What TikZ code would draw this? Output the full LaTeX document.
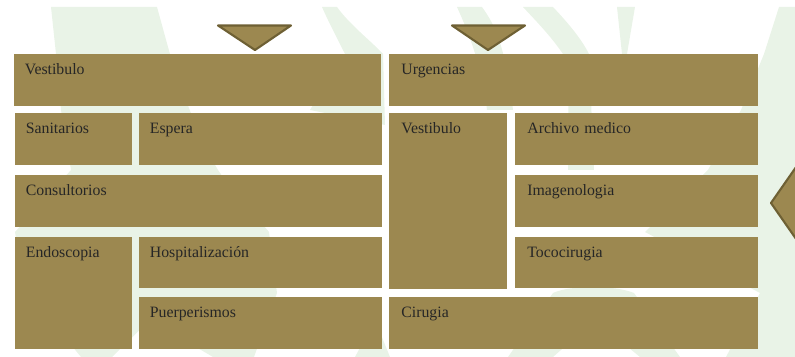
\documentclass[tikz,border=0pt]{standalone}
\usepackage{fontspec}
\setmainfont{Liberation Serif}
\usepackage{xcolor}
\usepackage{tikz}
\usetikzlibrary{positioning}
\definecolor{roomfill}{HTML}{9C8850}
\definecolor{arrowedge}{HTML}{6E6034}
\definecolor{markpale}{HTML}{E9F3E7}
\def\roominset{12}
\tikzset{
    room/.style 2 args={rectangle,fill=roomfill,anchor=north west,inner xsep={\roominset*.02cm},inner ysep=0pt,
        text width={(#1-2*\roominset)*.02cm},text height=.4cm,text depth={(#2-20)*.02cm},align=left,
        font=\fontsize{9}{11}\selectfont,text=black!85},
    pointer/.style={fill=roomfill,draw=arrowedge,line width=1.2pt,line join=round}
}
\begin{document}
\begin{tikzpicture}[x=.02cm,y=-.02cm]
    \useasboundingbox (0,0) rectangle (795,357);
    % pale shapes behind the rooms
    \begin{scope}[every path/.style={fill=markpale}]
    \path (51,7) -- (157,7) .. controls (162,25) and (166,40) .. (170,54) .. controls (185,100) and (200,140) .. (218,170)
        .. controls (235,195) and (255,215) .. (269,232) -- (277,293) -- (254,357) -- (213,357) -- (150,320) -- (112,357) -- (81,357)
        .. controls (50,320) and (20,270) .. (15,232) -- (71,170) -- (61,110) -- (56,54) -- cycle;
    \path (322,7) -- (337,7) .. controls (350,25) and (370,40) .. (383,54) -- (385,125) -- (310,110) -- (345,54) .. controls (338,40) and (330,25) .. (322,7) -- cycle;
    \path (457,7) -- (482,7) .. controls (495,25) and (505,45) .. (513,110) -- (487,110) .. controls (482,70) and (472,40) .. (457,7) -- cycle;
    \path (523,7) -- (553,7) .. controls (570,25) and (582,40) .. (589,54) -- (594,170) -- (568,170) .. controls (570,120) and (568,80) .. (563,54) .. controls (550,35) and (535,20) .. (523,7) -- cycle;
    \path (553,293) .. controls (570,285) and (615,285) .. (634,293) -- (680,357) -- (640,357) -- (595,320) -- (553,357) -- (508,357) -- cycle;
    \path (355,357) -- (375,320) -- (390,357) -- cycle;
    \path (617,7) -- (635,7) -- (627,54) -- (622,54) -- cycle;
    \path (779,7) -- (795,7) -- (795,357) -- (726,357) -- (760,293) -- (645,232) -- (708,170) -- (741,110) -- (764,54) -- cycle;
    \end{scope}
    % pointers
    \draw[pointer] (218,25.5) -- (291,25.5) -- (255,50) -- cycle;
    \draw[pointer] (452,25.5) -- (525,25.5) -- (488,50) -- cycle;
    \begin{scope}
    \clip (0,0) rectangle (795,357);
    \draw[pointer] (771,203) -- (801,160) -- (801,246) -- cycle;
    \end{scope}
    % left block
    \def\roominset{10.5}
    \path
        (14,54)     node[room={367}{52}] (vestibulo){Vestibulo}
     ++ (1,59)      node[room={117}{52}] (sanitarios){Sanitarios}
     ++ (124,0)     node[room={243}{52}] (espera){Espera}
     ++ (-124,62)   node[room={367}{52}] (consultorios){Consultorios}
     ++ (0,62)      node[room={117}{112}] (endoscopia){Endoscopia}
     ++ (124,0)     node[room={243}{51}] (hospitalizacion){Hospitalización}
     ++ (0,60)      node[room={243}{52}] (puerperismos){Puerperismos}
     ;
    % right block
    \def\roominset{12}
    \path
        (389,54)    node[room={369}{52}] (urgencias){Urgencias}
     ++ (0,59)      node[room={118}{176}] (vestibulob){Vestibulo}
     ++ (126,0)     node[room={243}{52}] (archivo){Archivo medico}
     ++ (0,62)      node[room={243}{52}] (imagenologia){Imagenologia}
     ++ (0,62)      node[room={243}{51}] (tococirugia){Tococirugia}
     ++ (-126,60)   node[room={369}{52}] (cirugia){Cirugia}
     ;
\end{tikzpicture}
\end{document}
